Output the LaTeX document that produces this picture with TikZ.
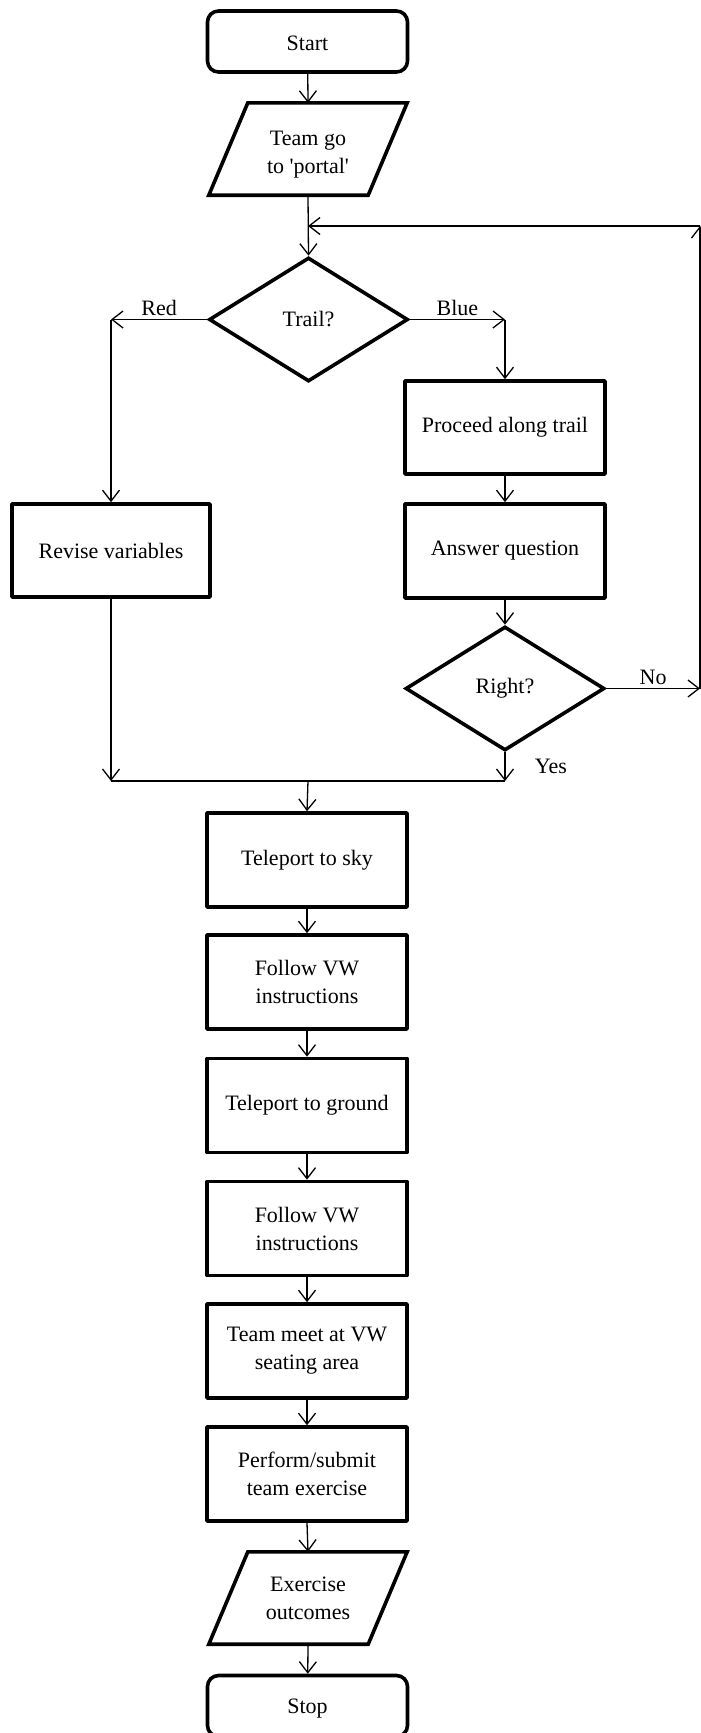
\documentclass[tikz,border=0pt]{standalone}
\usepackage{fontspec}
\setmainfont{Liberation Serif}
\usetikzlibrary{shapes.geometric,arrows.meta}

% lower a text box inside its node without changing the node's centring
\newcommand{\lowered}[2]{\raisebox{-#1}[\height][\depth]{#2}}

\begin{document}
\begin{tikzpicture}[x=1pt,y=-1pt,
  font=\fontsize{22}{28}\selectfont,
  box/.style={draw, line width=3.6pt, line join=round, minimum width=200pt,
              minimum height=94pt, inner sep=2pt, align=center},
  term/.style={box, rounded corners=11pt, minimum height=61pt},
  io/.style={inner sep=2pt, minimum width=198pt, minimum height=92pt, align=center},
  decision/.style={draw, diamond, line width=3.6pt, line join=miter, inner sep=0pt,
                   aspect=1.6, minimum width=199pt, minimum height=124pt},
  link/.style={line width=1.3pt},
  arr/.style={link, -{Straight Barb[length=11pt,width=17pt]}},
  lbl/.style={font=\fontsize{22}{28}\selectfont}]

\useasboundingbox (0,0) rectangle (701,1733);

% ---- nodes ----
\node[term] (start) at (307.5,41.5) {\lowered{2pt}{Start}};
\node[io] (portal) at (308,149)
  {\lowered{5pt}{\begin{tabular}{@{}c@{}}Team go\\to \textquotesingle portal\textquotesingle\end{tabular}}};
\node[decision] (trail) at (308.5,319.5) {Trail?};
\node[box, minimum width=198pt, minimum height=93pt] (revise) at (111,550.5) {Revise variables};
\node[box, minimum height=93pt] (proceed) at (505,427.5) {Proceed along trail};
\node[box] (answer) at (505,551) {Answer question};
\node[decision] (right) at (505,688.5) {Right?};

\node[box] (sky) at (307,860) {Teleport to sky};
\node[box] (vwa) at (307,982) {Follow VW\\instructions};
\node[box] (ground) at (307,1105.5) {Teleport to ground};
\node[box] (vwb) at (307,1228.5) {Follow VW\\instructions};
\node[box] (meet) at (307,1351) {Team meet at VW\\seating area};
\node[box] (perform) at (307,1474) {Perform/submit\\team exercise};
\node[io] (outcomes) at (308,1598) {Exercise\\outcomes};
\node[term] (stop) at (307.5,1706) {\lowered{3pt}{Stop}};

% ---- parallelogram outlines for the input/output steps ----
\foreach \n in {portal,outcomes}{
  \draw[line width=3.6pt, line join=miter]
    ([xshift=39pt]\n.north west) -- (\n.north east)
    -- ([xshift=-39pt]\n.south east) -- (\n.south west) -- cycle;
}

% ---- helper points ----
\coordinate (redc) at (revise.north |- trail.west);
\coordinate (bluec) at (proceed.north |- trail.east);
\coordinate (noc) at (700,688.5);
\coordinate (loopc) at (700,226);
\coordinate (loopin) at (308,226);
\coordinate (mL) at (111,781);
\coordinate (mR) at (505,781);
\coordinate (mC) at (308,781);

% ---- connectors ----
\draw[arr] (start) -- (portal.north);
\draw[arr] (portal.south) -- (trail.north);

\draw[arr] (trail.west) -- node[lbl, above] {Red} (redc);
\draw[arr] (redc) -- (revise.north);
\draw[arr] (trail.east) -- node[lbl, above] {Blue} (bluec);
\draw[arr] (bluec) -- (proceed.north);
\draw[arr] (proceed) -- (answer);
\draw[arr] (answer) -- (right.north);

\draw[arr] (right.east) -- node[lbl, above] {No} (noc);
\draw[arr] (noc) -- (loopc);
\draw[arr] (loopc) -- (loopin);

\draw[arr] (revise.south) -- (mL);
\draw[arr] (right.south) -- node[lbl, midway, right=26pt] {Yes} (mR);
\draw[link] (mL) -- (mR);
\draw[arr] (mC) -- (sky.north);

\draw[arr] (sky) -- (vwa);
\draw[arr] (vwa) -- (ground);
\draw[arr] (ground) -- (vwb);
\draw[arr] (vwb) -- (meet);
\draw[arr] (meet) -- (perform);
\draw[arr] (perform.south) -- (outcomes.north);
\draw[arr] (outcomes.south) -- (stop);
\end{tikzpicture}
\end{document}
